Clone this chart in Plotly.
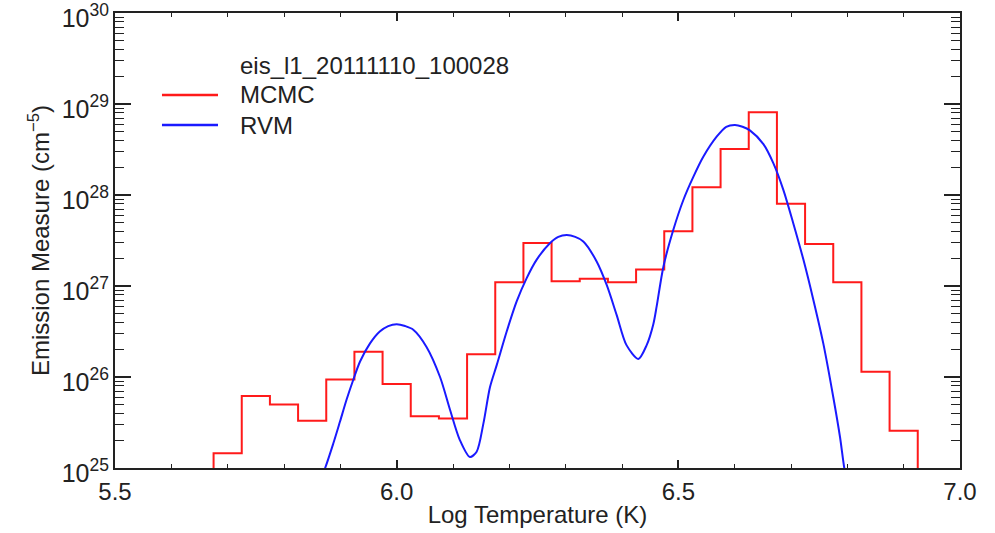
import plotly.graph_objects as go

# ---- data ----
bin_width = 0.05
mcmc_logt = [5.70, 5.75, 5.80, 5.85, 5.90, 5.95, 6.00, 6.05, 6.10, 6.15,
             6.20, 6.25, 6.30, 6.35, 6.40, 6.45, 6.50, 6.55, 6.60, 6.65,
             6.70, 6.75, 6.80, 6.85, 6.90]
mcmc_em = [1.45e25, 6.2e25, 5.0e25, 3.3e25, 9.4e25, 1.9e26, 8.4e25, 3.7e25, 3.5e25, 1.78e26,
           1.1e27, 2.97e27, 1.13e27, 1.2e27, 1.1e27, 1.52e27, 4.0e27, 1.22e28, 3.2e28, 8.1e28,
           8.0e27, 2.9e27, 1.1e27, 1.14e26, 2.57e25]

rvm_logt = [5.866, 5.873, 5.8875, 5.8994, 5.911, 5.923, 5.935, 5.9527, 5.970, 5.985,
            6.000, 6.015, 6.0295, 6.053, 6.077, 6.0947, 6.112, 6.130, 6.142, 6.154,
            6.1657, 6.1776, 6.1953, 6.213, 6.2308, 6.2486, 6.272, 6.287, 6.3018, 6.317,
            6.3313, 6.355, 6.373, 6.3906, 6.408, 6.429, 6.4438, 6.4556, 6.4616, 6.4734,
            6.491, 6.5089, 6.5266, 6.5443, 6.568, 6.585, 6.6006, 6.614, 6.627, 6.651,
            6.6686, 6.6864, 6.704, 6.722, 6.7396, 6.7573, 6.775, 6.787, 6.7946, 6.800]
rvm_em = [8.0e24, 1.00e25, 1.86e25, 3.24e25, 5.62e25, 9.33e25, 1.48e26, 2.34e26, 3.16e26, 3.63e26,
          3.80e26, 3.63e26, 3.31e26, 2.14e26, 1.00e26, 4.37e25, 2.04e25, 1.32e25, 1.51e25, 3.09e25,
          7.76e25, 1.35e26, 3.16e26, 6.76e26, 1.22e27, 1.95e27, 2.95e27, 3.47e27, 3.63e27, 3.47e27,
          3.09e27, 1.86e27, 1.02e27, 4.79e26, 2.24e26, 1.58e26, 2.24e26, 3.8e26, 6.0e26, 1.62e27,
          4.12e27, 8.81e27, 1.58e28, 2.63e28, 4.37e28, 5.62e28, 5.89e28, 5.62e28, 5.13e28, 3.62e28,
          2.24e28, 1.14e28, 4.90e27, 1.95e27, 7.08e26, 2.34e26, 6.03e25, 2.19e25, 1.00e25, 7.0e24]

title_text = "eis_l1_20111110_100028"
series_names = ["MCMC", "RVM"]
series_colors = ["#ff1a1a", "#1a1aff"]
floor_value = 1e24  # below visible range, for the open ends of the histogram

# ---- build histogram step outline from bin centres ----
hx, hy = [mcmc_logt[0] - bin_width / 2], [floor_value]
for c, v in zip(mcmc_logt, mcmc_em):
    hx += [c - bin_width / 2, c + bin_width / 2]
    hy += [v, v]
hx.append(mcmc_logt[-1] + bin_width / 2)
hy.append(floor_value)

FONT = "Liberation Sans, Arial, Helvetica, sans-serif"
FS = 24
TXT = "#222"

fig = go.Figure()
fig.add_trace(go.Scatter(x=hx, y=hy, mode="lines", name=series_names[0],
                         line=dict(color=series_colors[0], width=2), showlegend=False))
fig.add_trace(go.Scatter(x=rvm_logt, y=rvm_em, mode="lines", name=series_names[1],
                         line=dict(color=series_colors[1], width=2, shape="spline", smoothing=0.8),
                         showlegend=False))

# manual legend
leg_x0, leg_x1, leg_tx = 0.0556, 0.1219, 0.1456
leg_rows = [0.8198, 0.7538]
fig.add_annotation(x=leg_tx, y=0.8857, xref="paper", yref="paper", text=title_text,
                   showarrow=False, xanchor="left", yanchor="middle",
                   font=dict(size=FS, color=TXT, family=FONT))
for name, col, yy in zip(series_names, series_colors, leg_rows):
    fig.add_shape(type="line", xref="paper", yref="paper", x0=leg_x0, x1=leg_x1, y0=yy, y1=yy,
                  line=dict(color=col, width=2.5))
    fig.add_annotation(x=leg_tx, y=yy, xref="paper", yref="paper", text=name,
                       showarrow=False, xanchor="left", yanchor="middle",
                       font=dict(size=FS, color=TXT, family=FONT))

fig.update_xaxes(range=[5.5, 7.0], dtick=0.5, tick0=5.5, tickformat=".1f",
                 ticks="inside", ticklen=8, tickwidth=1.5, tickcolor=TXT,
                 minor=dict(ticks="inside", dtick=0.1, ticklen=4, tickwidth=1.2, tickcolor=TXT),
                 showline=True, linecolor=TXT, linewidth=2, mirror="allticks",
                 showgrid=False, zeroline=False, automargin=False,
                 ticklabeloverflow="allow", ticklabelstandoff=1,
                 tickfont=dict(size=FS, color=TXT, family=FONT),
                 title=dict(text="Log Temperature (K)", font=dict(size=FS, color=TXT, family=FONT),
                            standoff=2))
fig.update_yaxes(type="log", range=[25, 30], dtick=1, exponentformat="power",
                 ticks="inside", ticklen=16, tickwidth=1.5, tickcolor=TXT,
                 minor=dict(ticks="inside", dtick="D1", ticklen=9, tickwidth=1.2, tickcolor=TXT),
                 showline=True, linecolor=TXT, linewidth=2, mirror="allticks",
                 showgrid=False, zeroline=False, automargin=False,
                 ticklabeloverflow="allow", ticklabelstandoff=0, ticklabelshift=5,
                 tickfont=dict(size=20, color=TXT, family=FONT),
                 title=dict(text="Emission Measure (cm<sup>−5</sup>)",
                            font=dict(size=FS, color=TXT, family=FONT), standoff=5))

fig.update_layout(width=995, height=533, margin=dict(l=115, r=35, t=13, b=65),
                  paper_bgcolor="white", plot_bgcolor="white", font=dict(family=FONT))

fig.write_html("out.html")
